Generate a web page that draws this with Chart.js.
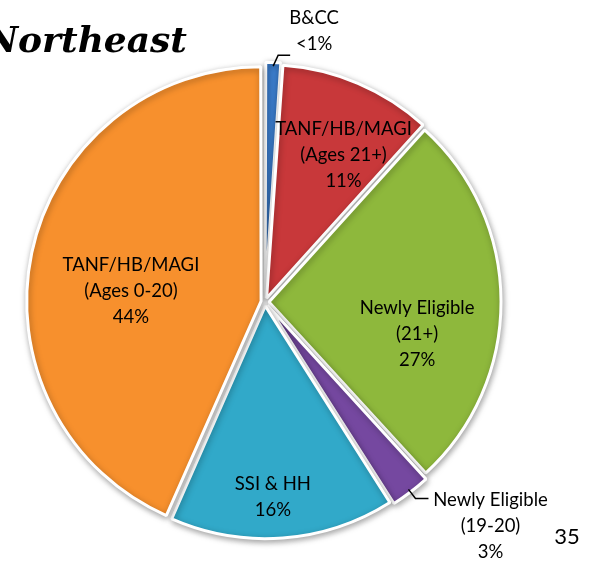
<!DOCTYPE html>
<html>
<head>
<meta charset="utf-8">
<script src="https://cdn.jsdelivr.net/npm/chart.js@4/dist/chart.umd.min.js"></script>
<style>
  html, body { margin: 0; padding: 0; background: #fff; }
  #wrap { width: 594px; height: 561px; position: relative; }
</style>
</head>
<body>
<div id="wrap"><canvas id="pieChart" width="594" height="561"></canvas></div>
<script>
// Dados do gráfico (sentido horário a partir do topo)
const categories = [
    ['B&CC'],
    ['TANF/HB/MAGI', '(Ages 21+)'],
    ['Newly Eligible', '(21+)'],
    ['Newly Eligible', '(19-20)'],
    ['SSI & HH'],
    ['TANF/HB/MAGI', '(Ages 0-20)']
];
const shares = [1.1, 10.6, 26.5, 2.8, 15.6, 43.4];
const shareLabels = ['<1%', '11%', '27%', '3%', '16%', '44%'];
const sliceColors = ['#3B7CCB', '#C8383A', '#8EB83C', '#7548A0', '#31A9C9', '#F7902D'];

const chartTitle = 'Northeast';
const pageNumber = '35';

// Onde fica cada rótulo: dentro da fatia (fração do raio) ou fora com linha guia
const labelPlacement = [
    { outside: true, elbow: [5, -11], run: 12, text: [24, -24], down: false },
    { frac: 0.72, shift: 5 },
    { frac: 0.67, shift: 12 },
    { outside: true, elbow: [7, 9], run: 13, text: [62, 2], down: true },
    { frac: 0.84, shift: 2 },
    { frac: 0.58, shift: -7 }
];

const FONT = 'Lato, "Noto Sans", sans-serif';

const labelsPlugin = {
    id: 'sliceLabels',
    beforeDatasetsDraw(chart) {
        const ctx = chart.ctx;
        ctx.save();
        ctx.shadowColor = 'rgba(0,0,0,0.35)';
        ctx.shadowBlur = 6;
        ctx.shadowOffsetX = 1;
        ctx.shadowOffsetY = 2;
    },
    afterDatasetsDraw(chart) {
        const ctx = chart.ctx;
        ctx.restore();
        const arcs = chart.getDatasetMeta(0).data;

        ctx.save();
        ctx.fillStyle = '#000';
        ctx.strokeStyle = '#000';
        ctx.textAlign = 'center';
        ctx.textBaseline = 'middle';
        ctx.font = '18.5px ' + FONT;
        const lineH = 26;

        arcs.forEach((arc, i) => {
            const p = arc.getProps(['x', 'y', 'startAngle', 'endAngle', 'outerRadius'], true);
            const mid = (p.startAngle + p.endAngle) / 2;
            const place = labelPlacement[i];
            const lines = categories[i].concat([shareLabels[i]]);
            let cx, cy;
            if (place.outside) {
                const sx = p.x + Math.cos(mid) * (p.outerRadius + 4);
                const sy = p.y + Math.sin(mid) * (p.outerRadius + 4);
                const ex = sx + place.elbow[0];
                const ey = sy + place.elbow[1];
                ctx.lineWidth = 1.5;
                ctx.beginPath();
                ctx.moveTo(sx, sy);
                ctx.lineTo(ex, ey);
                ctx.lineTo(ex + place.run, ey);
                ctx.stroke();
                cx = ex + place.run + place.text[0];
                cy = ey + place.text[1];
                // o texto desce a partir da linha guia, ou sobe até ela
                const top = place.down ? cy : cy - (lines.length - 1) * lineH / 2;
                lines.forEach((t, k) => ctx.fillText(t, cx, top + k * lineH));
                return;
            }
            const a = mid + place.shift * Math.PI / 180;
            const r = p.outerRadius * place.frac;
            cx = p.x + Math.cos(a) * r;
            cy = p.y + Math.sin(a) * r;
            const top = cy - (lines.length - 1) * lineH / 2;
            lines.forEach((t, k) => ctx.fillText(t, cx, top + k * lineH));
        });

        // Título e número da página
        ctx.textAlign = 'right';
        ctx.textBaseline = 'alphabetic';
        ctx.font = 'italic bold 36px "DejaVu Serif", serif';
        ctx.fillText(chartTitle, 187, 52);
        ctx.textAlign = 'center';
        ctx.textBaseline = 'middle';
        ctx.font = '22px ' + FONT;
        ctx.fillText(pageNumber, 567, 537);
        ctx.restore();
    }
};

new Chart(document.getElementById('pieChart'), {
    type: 'pie',
    data: {
        labels: categories.map(c => c.join(' ')),
        datasets: [{
            data: shares,
            backgroundColor: sliceColors,
            borderColor: '#ffffff',
            borderWidth: 3,
            offset: 16,
            hoverOffset: 0,
            radius: 232
        }]
    },
    options: {
        responsive: false,
        animation: false,
        layout: { padding: { left: 20, right: 84, top: 60, bottom: 17 } },
        plugins: {
            legend: { display: false },
            tooltip: { enabled: false },
            title: { display: false }
        }
    },
    plugins: [labelsPlugin]
});
</script>
</body>
</html>
